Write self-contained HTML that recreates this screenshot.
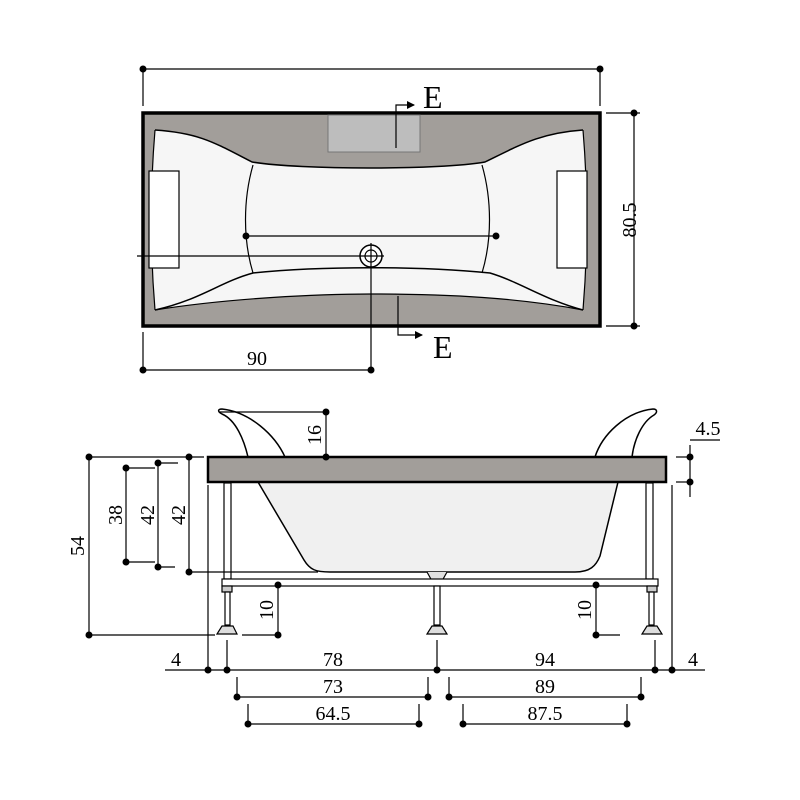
<!DOCTYPE html>
<html><head><meta charset="utf-8"><style>html,body{margin:0;padding:0;background:#fff}svg{display:block}</style></head>
<body>
<svg width="800" height="800" viewBox="0 0 800 800" xmlns="http://www.w3.org/2000/svg" font-family="Liberation Serif, serif" font-size="20">
<defs>
<marker id="ar" markerWidth="8" markerHeight="8" refX="7" refY="4" orient="auto" markerUnits="userSpaceOnUse"><path d="M0,0 L8,4 L0,8 Z" fill="#000"/></marker>
</defs>
<g stroke="#000" stroke-width="1.2" fill="none">
<line x1="143" y1="69" x2="600" y2="69"/>
<line x1="143" y1="69" x2="143" y2="106"/>
<line x1="600" y1="69" x2="600" y2="106"/>
<rect x="143" y="113" width="457" height="213" fill="#a29e9a" stroke-width="3.5"/>
<path d="M155,130 C200,133 215,143 252,162 C300,170 440,170 485,162 C520,145 540,133 583,130 C587,180 588,260 583,310 C520,298 450,294 371,294 C320,294 230,298 155,310 C150,260 150,180 155,130 Z" fill="#f6f6f6" stroke="none"/>
<path d="M155,130 C200,133 215,143 252,162 C300,170 440,170 485,162 C520,145 540,133 583,130" stroke-width="1.5"/>
<path d="M155,310 C200,300 220,282 253,273 C320,266 420,266 490,273 C520,282 545,300 583,310" stroke-width="1.5"/>
<path d="M155,310 C230,298 320,294 371,294 C450,294 520,298 583,310" stroke-width="1.2"/>
<path d="M155,130 C150,190 150,250 155,310 M583,130 C588,190 588,250 583,310" stroke-width="1.2"/>
<path d="M253,165 C243,200 243,240 253,273 M482,165 C492,200 492,240 482,273" stroke-width="1.2"/>
<rect x="328" y="115" width="92" height="37" fill="#bdbdbd" stroke="#777" stroke-width="1"/>
<rect x="149" y="171" width="30" height="97" fill="#fff"/>
<rect x="557" y="171" width="30" height="97" fill="#fff"/>
<line x1="246" y1="236" x2="496" y2="236"/>
<line x1="137" y1="256" x2="358" y2="256"/>
<circle cx="371" cy="256" r="11" stroke-width="1.5" fill="#fff"/>
<circle cx="371" cy="256" r="6"/>
<line x1="358" y1="256" x2="384" y2="256"/>
<line x1="371" y1="243" x2="371" y2="370"/>
<line x1="143" y1="332" x2="143" y2="370"/>
<line x1="143" y1="370" x2="371" y2="370"/>
<line x1="606" y1="113" x2="640" y2="113"/>
<line x1="606" y1="326" x2="640" y2="326"/>
<line x1="634" y1="113" x2="634" y2="326"/>
<path d="M396,148 V105 H414" marker-end="url(#ar)"/>
<path d="M398,296 V335 H422" marker-end="url(#ar)"/>
<path d="M258,482 L304,560 C310,570 316,572 330,572 L575,572 C590,572 596,566 600,556 L618,482 Z" fill="#f0f0f0" stroke-width="1.5"/>
<path d="M427,572 L432,581 L442,581 L447,572" fill="#e0e0e0"/>
<path d="M248,457 C244,440 236,420 222,414 C218,412 217,409 222,409 C250,412 275,435 285,457" fill="#fff" stroke-width="1.5"/>
<path d="M632,457 C634,440 642,422 654,415 C658,412 657,409 653,409 C625,412 602,435 595,457" fill="#fff" stroke-width="1.5"/>
<rect x="208" y="457" width="458" height="25" fill="#a29e9a" stroke-width="2.5"/>
<rect x="224" y="483" width="7" height="96" fill="#fff"/>
<rect x="646" y="483" width="7" height="96" fill="#fff"/>
<rect x="222" y="579" width="436" height="7" fill="#fff"/>
<rect x="222" y="586" width="10" height="6" fill="#ccc"/>
<rect x="647" y="586" width="10" height="6" fill="#ccc"/>
<rect x="225" y="592" width="5" height="33" fill="#fff"/>
<rect x="434" y="586" width="6" height="39" fill="#fff"/>
<rect x="649" y="592" width="5" height="33" fill="#fff"/>
<path d="M222,626 H233 L237,634 H217 Z" fill="#ddd"/>
<path d="M432,626 H442 L447,634 H427 Z" fill="#ddd"/>
<path d="M647,626 H657 L662,634 H642 Z" fill="#ddd"/>
<line x1="220" y1="412" x2="326" y2="412"/>
<line x1="326" y1="412" x2="326" y2="457"/>
<line x1="676" y1="457" x2="690" y2="457"/>
<line x1="676" y1="482" x2="690" y2="482"/>
<line x1="690" y1="445" x2="690" y2="497"/>
<line x1="690" y1="440" x2="720" y2="440"/>
<line x1="89" y1="457" x2="204" y2="457"/>
<line x1="89" y1="635" x2="215" y2="635"/>
<line x1="89" y1="457" x2="89" y2="635"/>
<line x1="189" y1="457" x2="189" y2="572"/>
<line x1="189" y1="572" x2="318" y2="572"/>
<line x1="158" y1="463" x2="158" y2="567"/>
<line x1="158" y1="463" x2="178" y2="463"/>
<line x1="158" y1="567" x2="175" y2="567"/>
<line x1="126" y1="468" x2="126" y2="562"/>
<line x1="126" y1="468" x2="155" y2="468"/>
<line x1="126" y1="562" x2="155" y2="562"/>
<line x1="278" y1="585" x2="278" y2="635"/>
<line x1="242" y1="635" x2="278" y2="635"/>
<line x1="596" y1="585" x2="596" y2="635"/>
<line x1="596" y1="635" x2="620" y2="635"/>
<line x1="165" y1="670" x2="705" y2="670"/>
<line x1="208" y1="485" x2="208" y2="670"/>
<line x1="672" y1="485" x2="672" y2="670"/>
<line x1="227" y1="640" x2="227" y2="670"/>
<line x1="437" y1="640" x2="437" y2="670"/>
<line x1="655" y1="640" x2="655" y2="670"/>
<line x1="237" y1="697" x2="428" y2="697"/>
<line x1="237" y1="677" x2="237" y2="697"/>
<line x1="428" y1="677" x2="428" y2="697"/>
<line x1="449" y1="697" x2="641" y2="697"/>
<line x1="449" y1="677" x2="449" y2="697"/>
<line x1="641" y1="677" x2="641" y2="697"/>
<line x1="248" y1="724" x2="419" y2="724"/>
<line x1="248" y1="704" x2="248" y2="724"/>
<line x1="419" y1="704" x2="419" y2="724"/>
<line x1="463" y1="724" x2="627" y2="724"/>
<line x1="463" y1="704" x2="463" y2="724"/>
<line x1="627" y1="704" x2="627" y2="724"/>
</g>
<g fill="#000">
<circle cx="143" cy="69" r="3.5"/><circle cx="600" cy="69" r="3.5"/>
<circle cx="634" cy="113" r="3.5"/><circle cx="634" cy="326" r="3.5"/>
<circle cx="246" cy="236" r="3.5"/><circle cx="496" cy="236" r="3.5"/>
<circle cx="143" cy="370" r="3.5"/><circle cx="371" cy="370" r="3.5"/>
<circle cx="326" cy="412" r="3.5"/><circle cx="326" cy="457" r="3.5"/>
<circle cx="690" cy="457" r="3.5"/><circle cx="690" cy="482" r="3.5"/>
<circle cx="89" cy="457" r="3.5"/><circle cx="89" cy="635" r="3.5"/>
<circle cx="189" cy="457" r="3.5"/><circle cx="189" cy="572" r="3.5"/>
<circle cx="158" cy="463" r="3.5"/><circle cx="158" cy="567" r="3.5"/>
<circle cx="126" cy="468" r="3.5"/><circle cx="126" cy="562" r="3.5"/>
<circle cx="278" cy="585" r="3.5"/><circle cx="278" cy="635" r="3.5"/>
<circle cx="596" cy="585" r="3.5"/><circle cx="596" cy="635" r="3.5"/>
<circle cx="208" cy="670" r="3.5"/><circle cx="227" cy="670" r="3.5"/><circle cx="437" cy="670" r="3.5"/><circle cx="655" cy="670" r="3.5"/><circle cx="672" cy="670" r="3.5"/>
<circle cx="237" cy="697" r="3.5"/><circle cx="428" cy="697" r="3.5"/><circle cx="449" cy="697" r="3.5"/><circle cx="641" cy="697" r="3.5"/>
<circle cx="248" cy="724" r="3.5"/><circle cx="419" cy="724" r="3.5"/><circle cx="463" cy="724" r="3.5"/><circle cx="627" cy="724" r="3.5"/>
<text x="423" y="108" font-size="32">E</text>
<text x="433" y="358" font-size="32">E</text>
<text x="257" y="365" text-anchor="middle">90</text>
<text transform="translate(636,220) rotate(-90)" text-anchor="middle">80.5</text>
<text transform="translate(321,435) rotate(-90)" text-anchor="middle">16</text>
<text x="708" y="435" text-anchor="middle">4.5</text>
<text transform="translate(84,546) rotate(-90)" text-anchor="middle">54</text>
<text transform="translate(185,515) rotate(-90)" text-anchor="middle">42</text>
<text transform="translate(154,515) rotate(-90)" text-anchor="middle">42</text>
<text transform="translate(122,515) rotate(-90)" text-anchor="middle">38</text>
<text transform="translate(273,610) rotate(-90)" text-anchor="middle">10</text>
<text transform="translate(591,610) rotate(-90)" text-anchor="middle">10</text>
<text x="176" y="666" text-anchor="middle">4</text>
<text x="333" y="666" text-anchor="middle">78</text>
<text x="545" y="666" text-anchor="middle">94</text>
<text x="693" y="666" text-anchor="middle">4</text>
<text x="333" y="693" text-anchor="middle">73</text>
<text x="545" y="693" text-anchor="middle">89</text>
<text x="333" y="720" text-anchor="middle">64.5</text>
<text x="545" y="720" text-anchor="middle">87.5</text>
</g>
</svg>
</body></html>
